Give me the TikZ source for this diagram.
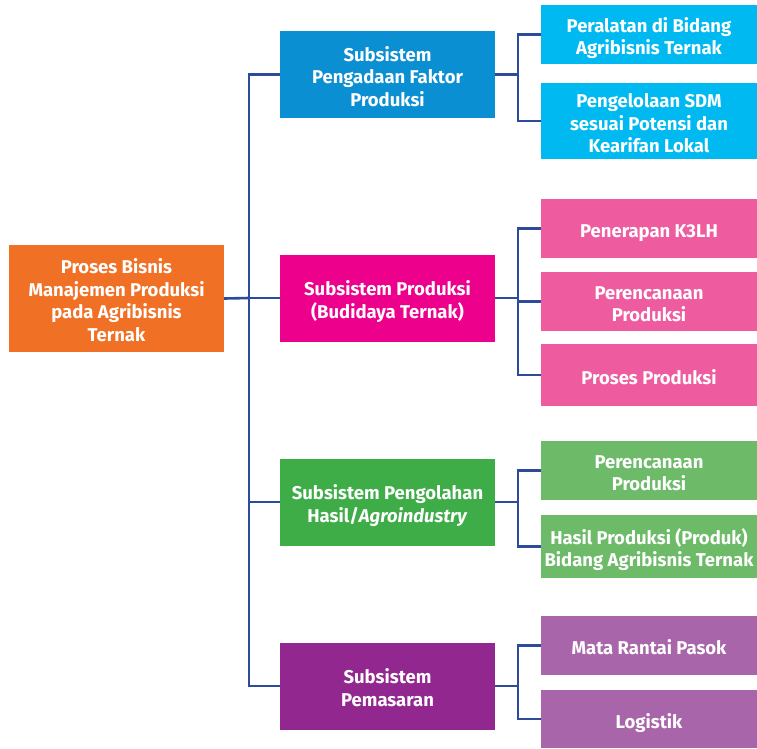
\documentclass[tikz,border=0pt]{standalone}
\usepackage{fontspec}
\setmainfont{Fira Sans}
\usetikzlibrary{positioning}

\definecolor{rootc}{HTML}{F07025}
\definecolor{subA}{HTML}{0B8FD3}
\definecolor{leafA}{HTML}{00B9F1}
\definecolor{subB}{HTML}{EC008C}
\definecolor{leafB}{HTML}{EE5C9F}
\definecolor{subC}{HTML}{3EAD48}
\definecolor{leafC}{HTML}{6DBA68}
\definecolor{subD}{HTML}{92278F}
\definecolor{leafD}{HTML}{A865AA}
\definecolor{linec}{HTML}{2E4A9A}

% first line of every box gets the same height
\newcommand{\boxstrut}{\rule{0pt}{23pt}}

\tikzset{
	box/.style={inner sep=0pt, align=center, text=white,
		font=\fontsize{18.5}{22.5}\selectfont\bfseries,
		execute at end node={\rule[-5pt]{0pt}{5pt}}},
	rootbox/.style={box, fill=rootc, minimum width=215pt, minimum height=107pt},
	subbox/.style={box, fill=#1, minimum width=215pt, minimum height=87pt},
	leafbox/.style={box, fill=#1, minimum width=216pt},
	link/.style={draw=linec, line width=2.6pt}
}

\begin{document}
\begin{tikzpicture}[x=1pt, y=-1pt]
	\useasboundingbox (0,0) rectangle (757,748);
	% root and subsystems
	\node[rootbox] (root) at (116.5,298.5) {\boxstrut Proses Bisnis\\Manajemen Produksi\\pada Agribisnis\\Ternak};
	\node[subbox=subA] (s1) at (387.5,74.5) {\boxstrut Subsistem\\Pengadaan Faktor\\Produksi};
	\node[subbox=subB] (s2) at (387.5,298) {\boxstrut Subsistem Produksi\\(Budidaya Ternak)};
	\node[subbox=subC] (s3) at (387.5,502) {\boxstrut Subsistem Pengolahan\\Hasil/\textit{Agroindustry}};
	\node[subbox=subD] (s4) at (387.5,686) {\boxstrut Subsistem\\Pemasaran};
	% leaves
	\node[leafbox=leafA, minimum height=59pt] (l1) at (649,34.5) {\boxstrut Peralatan di Bidang\\Agribisnis Ternak};
	\node[leafbox=leafA, minimum height=76pt] (l2) at (649,121) {\boxstrut Pengelolaan SDM\\sesuai Potensi dan\\Kearifan Lokal};
	\node[leafbox=leafB, minimum height=59pt] (l3) at (649,228.5) {\boxstrut Penerapan K3LH};
	\node[leafbox=leafB, minimum height=59pt] (l4) at (649,301.5) {\boxstrut Perencanaan\\Produksi};
	\node[leafbox=leafB, minimum height=62pt] (l5) at (649,375) {\boxstrut Proses Produksi};
	\node[leafbox=leafC, minimum height=59pt] (l6) at (649,470.5) {\boxstrut Perencanaan\\Produksi};
	\node[leafbox=leafC, minimum height=63pt] (l7) at (649,546.5) {\boxstrut Hasil Produksi (Produk)\\Bidang Agribisnis Ternak};
	\node[leafbox=leafD, minimum height=59pt] (l8) at (649,645.5) {\boxstrut Mata Rantai Pasok};
	\node[leafbox=leafD, minimum height=58pt] (l9) at (649,719) {\boxstrut Logistik};
	% bus points
	\coordinate (b0) at (249,298);
	\coordinate (b1) at (518,74.5);
	\coordinate (b2) at (518,298);
	\coordinate (b3) at (518,502);
	\coordinate (b4) at (518,686);
	% connectors
	\draw[link] (root.east) -- (b0);
	\foreach \s in {1,...,4}
		\draw[link] (b0) |- (s\s.west);
	\foreach \s in {1,...,4}
		\draw[link] (s\s.east) -- (b\s);
	\foreach \s/\l in {1/1,1/2,2/3,2/4,2/5,3/6,3/7,4/8,4/9}
		\draw[link] (b\s) |- (l\l.west);
\end{tikzpicture}
\end{document}
